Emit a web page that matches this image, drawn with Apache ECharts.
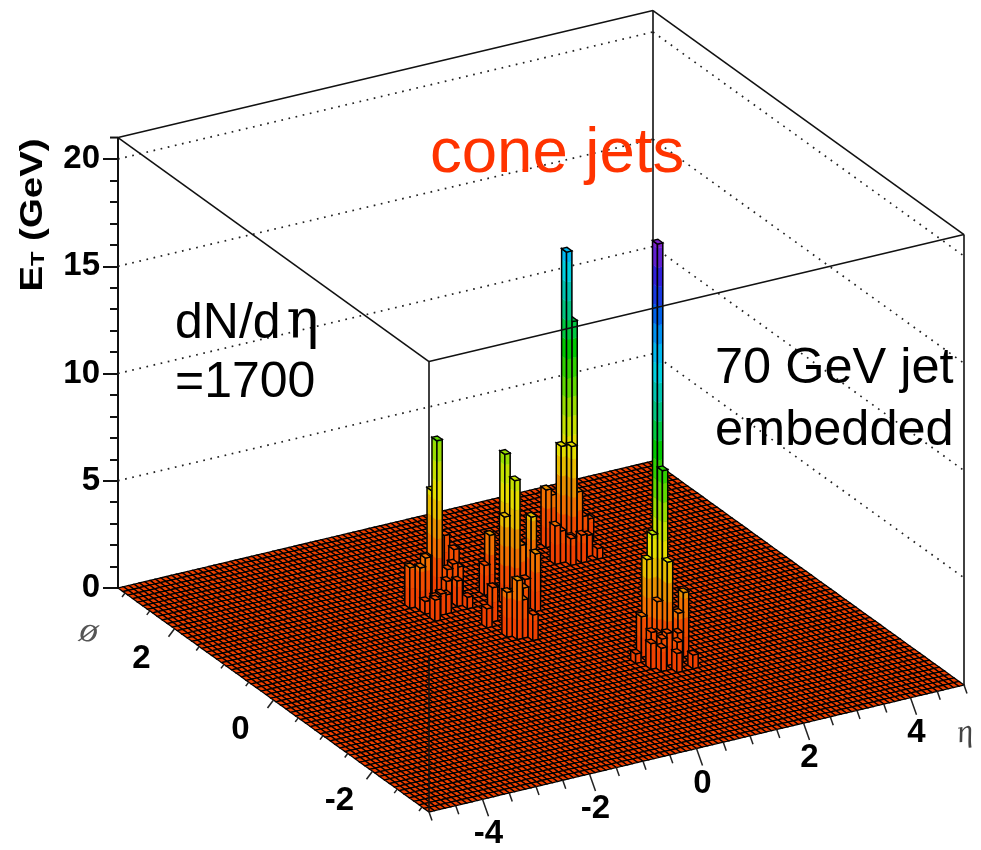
<!DOCTYPE html>
<html><head><meta charset="utf-8">
<style>html,body{margin:0;padding:0;background:#fff}#c{width:981px;height:850px}</style>
<script src="https://cdn.jsdelivr.net/npm/echarts@6/dist/echarts.min.js"></script>
</head><body><div id="c"></div>
<script>
// histogram binning
const etaRange = [-5, 5];
const phiRange = [-Math.PI, Math.PI];
const zRange = [0, 20];
const zBoxTop = 21;
const etaBins = 100;
const phiBins = 63;
// towers above zero: [etaBin, phiBin, ET in GeV]
const jetA = [[43,45,7.3],[43,46,4.8],[41,45,2.0],[38,43,2.0],[37,44,1.9],[39,43,2.4],[49,50,1.7],[48,47,1.6],[45,44,1.6],[42,42,1.3],[38,40,1.0],[46,44,1.4],[45,41,0.55],[41,41,0.9],[40,41,1.0],[39,41,0.9],[38,42,0.6],[44,42,1.2],[44,44,1.4]];
const jetB = [[52,39,5.9],[52,41,6.8],[51,40,4.1],[56,40,3.8],[51,43,2.75],[50,43,1.4],[54,40,2.6],[54,37,2.7],[46,32,2.75],[45,33,2.1],[48,31,1.2],[46,37,1.6],[46,33,2.0],[47,32,1.8],[50,36,1.5],[49,34,1.9],[47,34,1.8],[44,36,0.9],[53,38,1.4]];
const jetC = [[70,48,14.0],[71,48,10.7],[69,48,5.0],[70,47,5.1],[68,50,2.7],[69,50,2.4],[66,46,1.8],[72,48,2.7],[73,48,1.5],[75,49,1.1],[70,45,1.3],[68,45,1.25],[73,45,0.5],[69,46,1.1],[67,46,1.5],[71,46,1.0],[72,46,1.0]];
const jetD = [[63,22,19.1],[63,21,8.7],[62,22,5.6],[61,22,4.5],[63,20,4.6],[62,21,2.65],[66,20,3.0],[65,20,2.1],[60,22,1.9],[62,19,1.5],[59,19,1.2],[65,17,0.65],[58,21,0.45],[62,17,0.9],[60,18,1.1],[61,20,1.4],[60,20,1.5],[64,19,1.4],[63,18,1.2],[61,19,1.3]];
// ticks
const etaTicks = [-5,-4.5,-4,-3.5,-3,-2.5,-2,-1.5,-1,-0.5,0,0.5,1,1.5,2,2.5,3,3.5,4,4.5,5];
const etaLabels = [-4,-2,0,2,4];
const phiTicks = [-3,-2.5,-2,-1.5,-1,-0.5,0,0.5,1,1.5,2,2.5,3];
const phiLabels = [-2,0,2];
const zGrid = [5,10,15,20];
// height colour bands, bottom to top
const zBand = 0.9;
const zPalette = ['#EE4000','#F04C00','#F07000','#E89000','#E8BC00','#E4DC00','#C4E000','#98DC00','#60D800','#30D000','#00C800','#00C840','#00C480','#00C4B0','#00D0E0','#00B8F0','#0090F0','#0060E8','#1838E0','#3020D8','#6020D0','#7A20C8'];

const FONT = '"Liberation Sans", Arial, sans-serif';
const chart = echarts.init(document.getElementById('c'), null, {renderer:'canvas'});

// three value axes: eta and phi run along oblique floor edges, each
// expressed by a pair of hidden x/y axes; E_T is the visible vertical axis.
chart.setOption({
  animation:false,
  backgroundColor:'#fff',
  grid:[
    {left:429, top:685, width:535, height:127},
    {left:118, top:588, width:311, height:224},
    {left:118, top:159, width:846, height:429}
  ],
  xAxis:[
    {type:'value', gridIndex:0, min:etaRange[0], max:etaRange[1], show:false},
    {type:'value', gridIndex:1, min:phiRange[0], max:phiRange[1], inverse:true, show:false},
    {type:'value', gridIndex:2, min:0, max:1, show:false}
  ],
  yAxis:[
    {type:'value', gridIndex:0, min:etaRange[0], max:etaRange[1], show:false},
    {type:'value', gridIndex:1, min:phiRange[0], max:phiRange[1], show:false},
    {type:'value', gridIndex:2, min:zRange[0], max:zRange[1], interval:5, position:'left',
     axisLine:{show:true, onZero:false, lineStyle:{color:'#111', width:2}},
     axisTick:{show:true, length:15, lineStyle:{color:'#111', width:2}},
     minorTick:{show:true, splitNumber:5, length:8, lineStyle:{color:'#111', width:2}},
     splitLine:{show:false}, minorSplitLine:{show:false},
     axisLabel:{color:'#000', fontFamily:FONT, fontWeight:'bold', fontSize:33, margin:18}}
  ]
});

const memoE = new Map(), memoP = new Map(), memoZ = new Map();
function E(v){ let r=memoE.get(v); if(!r){ r=chart.convertToPixel({gridIndex:0},[v,v]); memoE.set(v,r);} return r; }
function P(v){ let r=memoP.get(v); if(!r){ r=chart.convertToPixel({gridIndex:1},[v,v]); memoP.set(v,r);} return r; }
function Z(v){ let r=memoZ.get(v); if(r===undefined){ r=chart.convertToPixel({gridIndex:2},[0,v])[1]; memoZ.set(v,r);} return r; }
function project(eta,phi,z){
  const e=E(eta), p=P(phi), o=E(etaRange[0]);
  return [e[0]+p[0]-o[0], e[1]+p[1]-o[1]+Z(z)-Z(0)];
}
const etaW=(etaRange[1]-etaRange[0])/etaBins, phiW=(phiRange[1]-phiRange[0])/phiBins;
function bandColor(z){ return zPalette[Math.min(zPalette.length-1, Math.floor(z/zBand))]; }

// cells, back to front
const towers=new Map();
[jetA,jetB,jetC,jetD].forEach(list=>list.forEach(t=>towers.set(t[0]*1000+t[1],t[2])));
const cells=[];
for(let i=etaBins-1;i>=0;i--) for(let j=phiBins-1;j>=0;j--){
  cells.push([i,j,towers.get(i*1000+j)||0]);
}
function renderCell(params,api){
  const i=api.value(0), j=api.value(1), et=api.value(2);
  const e0=etaRange[0]+i*etaW, e1=e0+etaW, p0=phiRange[0]+j*phiW, p1=p0+phiW;
  const top=[project(e0,p0,et),project(e1,p0,et),project(e1,p1,et),project(e0,p1,et)];
  const topShape={type:'polygon',shape:{points:top},style:{fill:bandColor(et),stroke:'#000',lineWidth:et>0?1.4:1.3}};
  if(et<=0) return topShape;
  const children=[];
  const faces=[[e0,p1,e0,p0],[e0,p0,e1,p0]];
  faces.forEach(f=>{
    for(let k=0;k*zBand<et;k++){
      const lo=k*zBand, hi=Math.min(et,(k+1)*zBand);
      const c=zPalette[Math.min(zPalette.length-1,k)];
      children.push({type:'polygon',shape:{points:[project(f[0],f[1],lo),project(f[2],f[3],lo),project(f[2],f[3],hi),project(f[0],f[1],hi)]},style:{fill:c,stroke:c,lineWidth:0.4}});
    }
    children.push({type:'polygon',shape:{points:[project(f[0],f[1],0),project(f[2],f[3],0),project(f[2],f[3],et),project(f[0],f[1],et)]},style:{fill:'none',stroke:'#000',lineWidth:1.5}});
  });
  children.push(topShape);
  return {type:'group',children};
}

// box edges [eta1,phi1,z1, eta2,phi2,z2, kind]
const eL=etaRange[0], eH=etaRange[1], pL=phiRange[0], pH=phiRange[1];
const wallEdges=[];
zGrid.forEach(z=>{
  wallEdges.push([eL,pH,z,eH,pH,z,1]);
  wallEdges.push([eH,pH,z,eH,pL,z,1]);
});
wallEdges.push([eH,pH,0,eH,pH,zBoxTop,0]);
wallEdges.push([eL,pL,0,eL,pL,zBoxTop,0]);
const frontEdges=[
  [eL,pH,zBoxTop,eL,pL,zBoxTop,0],[eL,pL,zBoxTop,eH,pL,zBoxTop,0],
  [eH,pL,zBoxTop,eH,pH,zBoxTop,0],[eH,pH,zBoxTop,eL,pH,zBoxTop,0],
  [eH,pL,0,eH,pL,zBoxTop,0],[eL,pL,0,eL,pL,7.3,0],
  [eL,pH,zRange[1],eL,pH,zBoxTop,2]
];
function renderEdge(params,api){
  const a=project(api.value(0),api.value(1),api.value(2)), b=project(api.value(3),api.value(4),api.value(5));
  const kind=api.value(6);
  const s=kind===1?{stroke:'#222',lineWidth:1.7,lineDash:[1.7,5.6],fill:null}:{stroke:'#111',lineWidth:kind===2?2:1.6,fill:null};
  const line={type:'line',shape:{x1:a[0],y1:a[1],x2:b[0],y2:b[1]},style:s};
  if(kind!==2) return line;
  return {type:'group',children:[line,{type:'line',shape:{x1:b[0]-8,y1:b[1],x2:b[0],y2:b[1]},style:s}]};
}

// oblique axis ticks
function renderEtaTick(params,api){
  const v=api.value(0), major=etaLabels.indexOf(v)>=0, a=project(v,pL,0);
  const f=major?1:0.5;
  const kids=[{type:'line',shape:{x1:a[0],y1:a[1],x2:a[0]+6*f,y2:a[1]+17*f},style:{stroke:'#222',lineWidth:1.5}}];
  if(major) kids.push({type:'text',style:{text:String(v),x:a[0]+6,y:a[1]+35,fill:'#000',font:'bold 33px '+FONT,align:'center',verticalAlign:'middle'}});
  return {type:'group',children:kids};
}
function renderPhiTick(params,api){
  const v=api.value(0), major=phiLabels.indexOf(v)>=0, a=project(eL,v,0);
  const f=major?1:0.5;
  const kids=[{type:'line',shape:{x1:a[0],y1:a[1],x2:a[0]-6*f,y2:a[1]+8*f},style:{stroke:'#222',lineWidth:1.5}}];
  if(major) kids.push({type:'text',style:{text:String(v),x:a[0]-33,y:a[1]+30,fill:'#000',font:'bold 33px '+FONT,align:'center',verticalAlign:'middle'}});
  return {type:'group',children:kids};
}

const cs={coordinateSystem:'none',silent:true,animation:false,progressive:0,clip:false};
chart.setOption({
  series:[
    Object.assign({type:'custom',name:'walls',z:1,data:wallEdges,renderItem:renderEdge},cs),
    Object.assign({type:'custom',name:'ET',z:2,data:cells,renderItem:renderCell},cs),
    Object.assign({type:'custom',name:'box',z:3,data:frontEdges,renderItem:renderEdge},cs),
    Object.assign({type:'custom',name:'etaAxis',z:3,data:etaTicks.map(v=>[v]),renderItem:renderEtaTick},cs),
    Object.assign({type:'custom',name:'phiAxis',z:3,data:phiTicks.map(v=>[v]),renderItem:renderPhiTick},cs)
  ],
  graphic:[
    {type:'text',z:10,x:33,y:215,rotation:Math.PI/2,scaleX:1.24,style:{text:'{a|E}{b|T}{a| (GeV)}',align:'center',verticalAlign:'middle',fill:'#000',
      rich:{a:{font:'bold 31px '+FONT,fill:'#000',verticalAlign:'bottom'},b:{font:'bold 19px '+FONT,fill:'#000',verticalAlign:'bottom'}}}},
    {type:'text',z:10,x:430,y:154,style:{text:'cone jets',fill:'#FF3300',font:'63.5px '+FONT,verticalAlign:'middle'}},
    {type:'text',z:10,x:175,y:324,style:{text:'{a|dN/d}{b|η}',fill:'#000',verticalAlign:'middle',
      rich:{a:{font:'50px '+FONT,fill:'#000'},b:{font:'54px "DejaVu Serif", serif',fill:'#000',padding:[0,0,0,6]}}}},
    {type:'text',z:10,x:175,y:383,style:{text:'=1700',fill:'#000',font:'50px '+FONT,verticalAlign:'middle'}},
    {type:'text',z:10,x:715,y:369,style:{text:'70 GeV jet',fill:'#000',font:'50.5px '+FONT,verticalAlign:'middle'}},
    {type:'text',z:10,x:715,y:431,style:{text:'embedded',fill:'#000',font:'50.5px '+FONT,verticalAlign:'middle'}},
    {type:'text',z:10,x:965,y:733,rotation:0.15,style:{text:'η',fill:'#444',font:'italic 32px "Liberation Serif", serif',align:'center',verticalAlign:'middle'}},
    {type:'text',z:10,x:89,y:632,rotation:-0.2,style:{text:'ø',fill:'#555',font:'italic 36px "Liberation Serif", serif',align:'center',verticalAlign:'middle'}}
  ]
});
</script></body></html>
